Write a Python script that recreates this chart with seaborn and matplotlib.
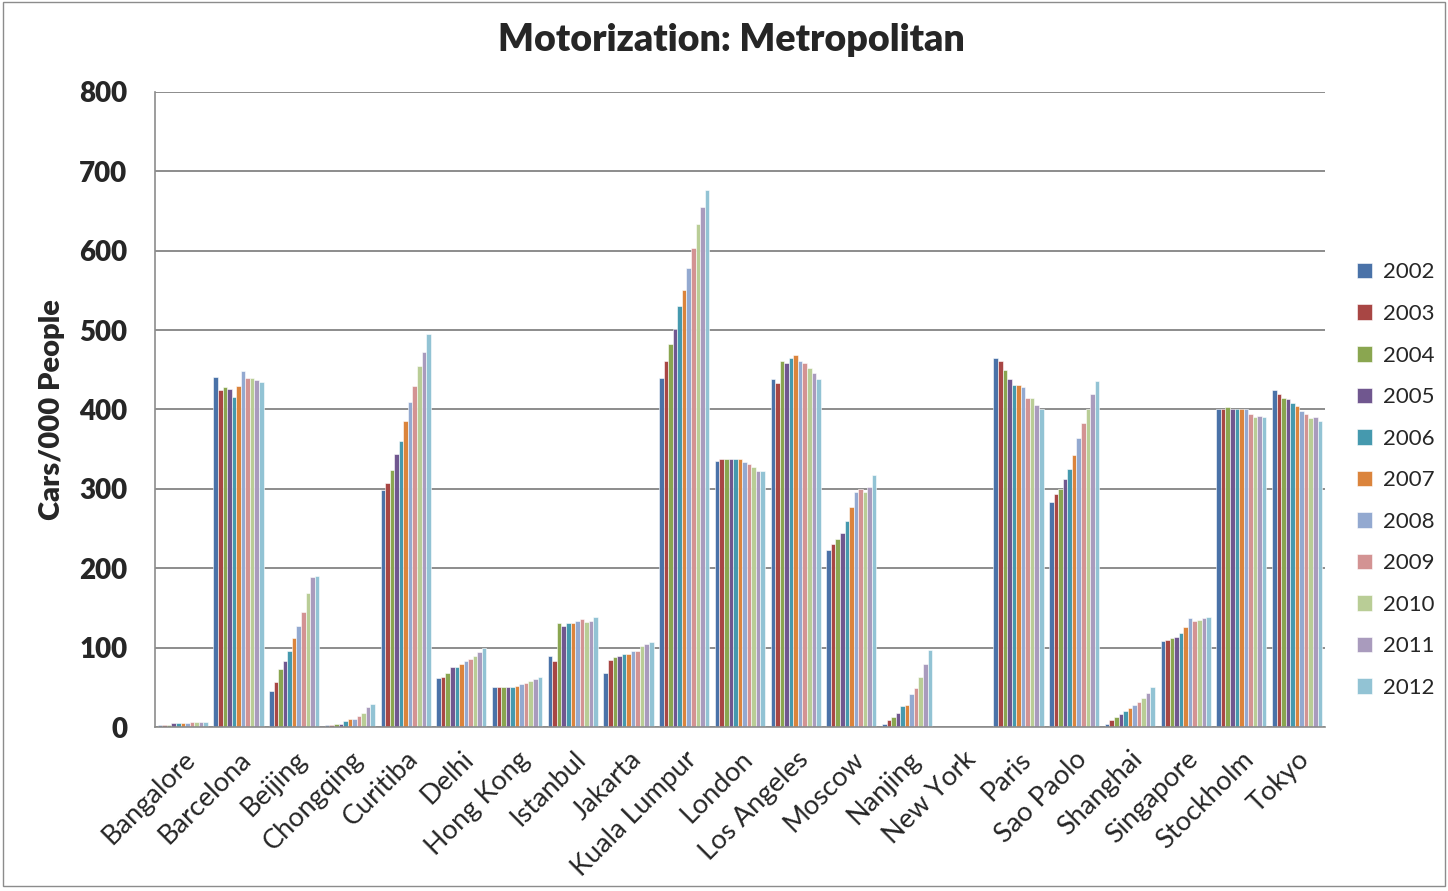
import numpy as np
import pandas as pd
import matplotlib.pyplot as plt
import seaborn as sns
from matplotlib.patches import Rectangle

cities = ["Bangalore", "Barcelona", "Beijing", "Chongqing", "Curitiba", "Delhi",
          "Hong Kong", "Istanbul", "Jakarta", "Kuala Lumpur", "London", "Los Angeles",
          "Moscow", "Nanjing", "New York", "Paris", "Sao Paolo", "Shanghai",
          "Singapore", "Stockholm", "Tokyo"]
years = ["2002", "2003", "2004", "2005", "2006", "2007", "2008", "2009", "2010", "2011", "2012"]

# cars per 1000 people, one list per city (2002..2012)
bangalore = [3, 3, 3, 5, 5, 5, 5, 6, 6, 6, 6]
barcelona = [441, 424, 428, 426, 416, 430, 449, 439, 439, 437, 434]
beijing = [45, 57, 73, 83, 96, 112, 127, 145, 169, 189, 190]
chongqing = [2, 2, 4, 4, 8, 10, 10, 14, 18, 25, 29]
curitiba = [298, 307, 324, 344, 360, 386, 409, 430, 455, 472, 495]
delhi = [62, 63, 68, 75, 75, 79, 83, 86, 90, 94, 99]
hong_kong = [50, 50, 50, 50, 50, 52, 54, 56, 58, 60, 63]
istanbul = [90, 83, 131, 127, 131, 131, 134, 136, 132, 134, 138]
jakarta = [68, 84, 88, 90, 92, 92, 96, 96, 102, 105, 107]
kuala_lumpur = [440, 461, 483, 501, 530, 551, 578, 603, 633, 655, 676]
london = [335, 337, 338, 338, 338, 337, 334, 331, 327, 323, 322]
los_angeles = [438, 433, 461, 459, 465, 469, 461, 458, 452, 446, 438]
moscow = [223, 231, 237, 245, 260, 277, 296, 300, 296, 302, 317]
nanjing = [4, 9, 13, 18, 26, 28, 42, 49, 63, 80, 97]
new_york = [np.nan] * 11
paris = [465, 461, 450, 438, 431, 431, 428, 415, 415, 405, 400]
sao_paolo = [283, 293, 300, 312, 325, 342, 364, 383, 400, 419, 436]
shanghai = [4, 9, 13, 16, 20, 24, 28, 32, 37, 43, 51]
singapore = [108, 110, 112, 114, 118, 126, 137, 133, 135, 137, 139]
stockholm = [400, 401, 403, 401, 401, 401, 400, 394, 390, 392, 390]
tokyo = [425, 419, 415, 413, 408, 404, 398, 394, 389, 390, 386]

values = [bangalore, barcelona, beijing, chongqing, curitiba, delhi, hong_kong,
          istanbul, jakarta, kuala_lumpur, london, los_angeles, moscow, nanjing,
          new_york, paris, sao_paolo, shanghai, singapore, stockholm, tokyo]

colors = ["#4A72A8", "#A84644", "#8AA650", "#70578F", "#4599AE", "#DB843C",
          "#93A9D0", "#D39393", "#B9CD96", "#A99BBD", "#92C3D4"]

rows = []
for city, vals in zip(cities, values):
    for year, v in zip(years, vals):
        rows.append({"city": city, "year": year, "value": v})
df = pd.DataFrame(rows)

sns.set_style("white")
plt.rcParams["font.family"] = ["Lato", "DejaVu Sans"]

fig = plt.figure(figsize=(14.48, 8.91), dpi=100)
ax = fig.add_axes([0.107, 0.184, 0.808, 0.713])

sns.barplot(data=df, x="city", y="value", hue="year", order=cities, hue_order=years,
            palette=colors, width=0.9, edgecolor="white", linewidth=0.4,
            saturation=1, ax=ax, legend=True)

ax.set_ylim(0, 800)
ax.set_xlim(-0.5, len(cities) - 0.5)
ax.set_yticks(range(0, 801, 100))
ax.set_yticklabels([str(v) for v in range(0, 801, 100)], fontsize=20, fontweight="heavy")
ax.yaxis.grid(True, color="#8c8c8c", linewidth=1.4)
ax.set_axisbelow(True)

ax.set_xticks(range(len(cities)))
ax.set_xticklabels(cities, rotation=45, ha="right", rotation_mode="anchor", fontsize=19.5)
ax.tick_params(axis="x", which="major", length=0, pad=14)
ax.set_xticks(np.arange(-0.5, len(cities)), minor=True)
ax.tick_params(axis="x", which="minor", length=6, color="#8c8c8c", width=1.2)
ax.tick_params(axis="y", length=6, color="#8c8c8c", width=1.2, pad=14)

for side in ["top", "right"]:
    ax.spines[side].set_visible(False)
for side in ["left", "bottom"]:
    ax.spines[side].set_color("#8c8c8c")
    ax.spines[side].set_linewidth(1.2)

ax.set_xlabel("")
ax.set_ylabel("Cars/000 People", fontsize=21, fontweight="heavy", labelpad=10)
fig.text(0.505, 0.955, "Motorization: Metropolitan", fontsize=27, fontweight="heavy",
         ha="center", va="center")

handles, labels = ax.get_legend_handles_labels()
ax.legend_.remove()
fig.legend(handles, labels, loc="center left", bbox_to_anchor=(0.923, 0.461),
           frameon=False, fontsize=16, handlelength=0.7, handleheight=0.7,
           handletextpad=0.5, labelspacing=0.97)

fig.patches.append(Rectangle((0.002, 0.006), 0.996, 0.992, transform=fig.transFigure,
                             fill=False, edgecolor="#8c8c8c", linewidth=1))

fig.savefig("out.png", dpi=100)
